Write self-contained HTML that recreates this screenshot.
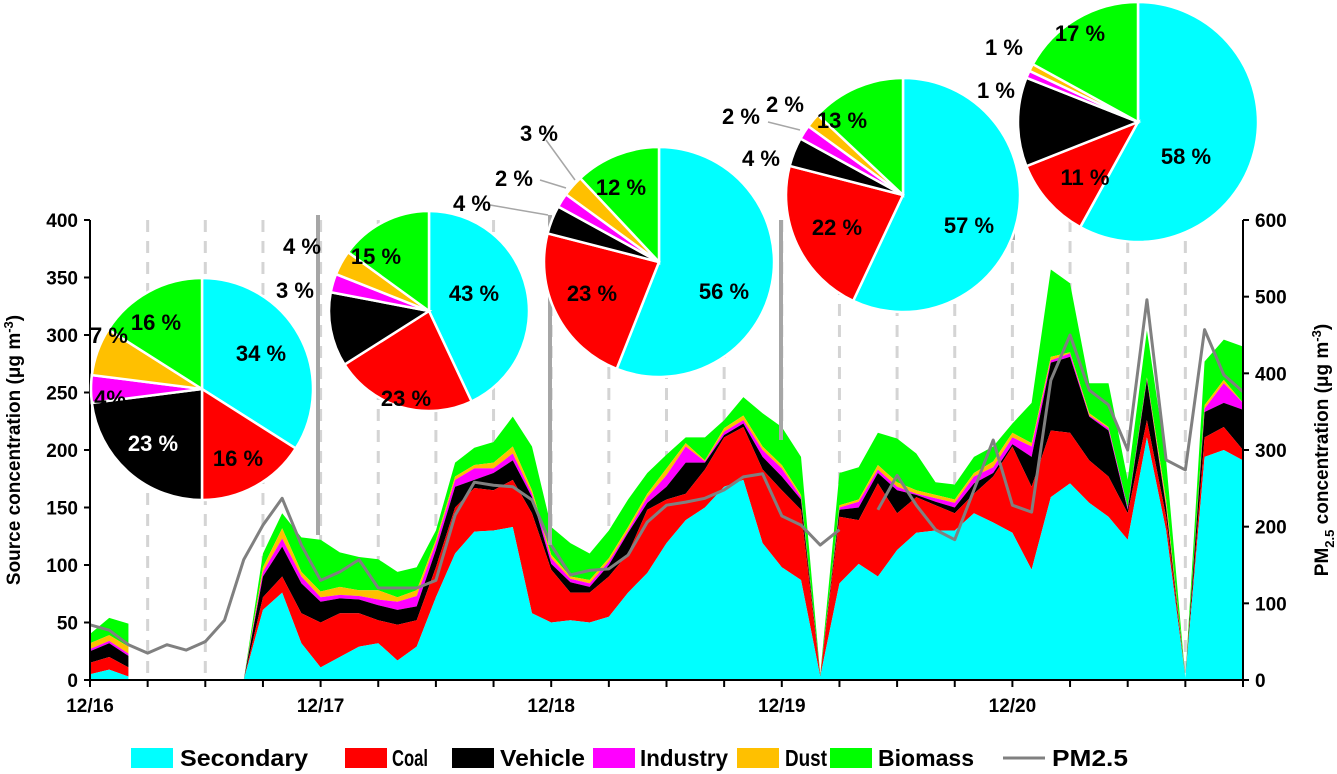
<!DOCTYPE html>
<html><head><meta charset="utf-8">
<style>
html,body{margin:0;padding:0;background:#fff;}
svg{display:block;font-family:"Liberation Sans",Arial,sans-serif;}
.t{font-weight:bold;font-size:19px;fill:#000;}
.pl{font-weight:bold;font-size:22px;fill:#000;}
.lg{font-weight:bold;font-size:23px;fill:#000;}
</style></head>
<body>
<svg id="chart" width="1337" height="774" viewBox="0 0 1337 774">
  <g id="grid"></g>
  <g id="areas"></g>
  <g id="pmline"></g>
  <g id="leaders">
    <line x1="318" y1="215" x2="318" y2="535" stroke="#a6a6a6" stroke-width="4"/>
    <line x1="550" y1="215" x2="550" y2="545" stroke="#a6a6a6" stroke-width="4"/>
    <line x1="781" y1="220" x2="781" y2="440" stroke="#a6a6a6" stroke-width="4"/>
    <line x1="1013" y1="220" x2="1013" y2="240" stroke="#a6a6a6" stroke-width="4"/>
    <polyline points="490,205 548,215" fill="none" stroke="#a6a6a6" stroke-width="1.5"/>
    <polyline points="540,180 566,188" fill="none" stroke="#a6a6a6" stroke-width="1.5"/>
    <polyline points="546,140 575,180" fill="none" stroke="#a6a6a6" stroke-width="1.5"/>
    <polyline points="768,122 800,130" fill="none" stroke="#a6a6a6" stroke-width="1.5"/>
  </g>
  <g id="axes"></g>
  <g id="pies"></g>
  <g id="pielabels">
    <text class="pl" x="261" y="361" text-anchor="middle">34 %</text>
    <text class="pl" x="238" y="466" text-anchor="middle">16 %</text>
    <text class="pl" x="153" y="451" text-anchor="middle" style="fill:#fff">23 %</text>
    <text class="pl" x="110" y="406" text-anchor="middle">4%</text>
    <text class="pl" x="109" y="343" text-anchor="middle">7 %</text>
    <text class="pl" x="156" y="330" text-anchor="middle">16 %</text>
    <text class="pl" x="474" y="301" text-anchor="middle">43 %</text>
    <text class="pl" x="406" y="406" text-anchor="middle">23 %</text>
    <text class="pl" x="376" y="264" text-anchor="middle">15 %</text>
    <text class="pl" x="295" y="298" text-anchor="middle">3 %</text>
    <text class="pl" x="302" y="254" text-anchor="middle">4 %</text>
    <text class="pl" x="724" y="299" text-anchor="middle">56 %</text>
    <text class="pl" x="592" y="301" text-anchor="middle">23 %</text>
    <text class="pl" x="621" y="195" text-anchor="middle">12 %</text>
    <text class="pl" x="472" y="211" text-anchor="middle">4 %</text>
    <text class="pl" x="514" y="186" text-anchor="middle">2 %</text>
    <text class="pl" x="539" y="141" text-anchor="middle">3 %</text>
    <text class="pl" x="969" y="233" text-anchor="middle">57 %</text>
    <text class="pl" x="837" y="235" text-anchor="middle">22 %</text>
    <text class="pl" x="842" y="128" text-anchor="middle">13 %</text>
    <text class="pl" x="761" y="166" text-anchor="middle">4 %</text>
    <text class="pl" x="741" y="124" text-anchor="middle">2 %</text>
    <text class="pl" x="785" y="112" text-anchor="middle">2 %</text>
    <text class="pl" x="1186" y="164" text-anchor="middle">58 %</text>
    <text class="pl" x="1085" y="185" text-anchor="middle">11 %</text>
    <text class="pl" x="1082" y="133" text-anchor="middle">12 %</text>
    <text class="pl" x="1080" y="41" text-anchor="middle">17 %</text>
    <text class="pl" x="996" y="98" text-anchor="middle">1 %</text>
    <text class="pl" x="1004" y="55" text-anchor="middle">1 %</text>
  </g>
  <text class="t" transform="translate(20,450) rotate(-90)" text-anchor="middle">Source concentration (μg m<tspan dy="-7" font-size="13">-3</tspan><tspan dy="7">)</tspan></text>
  <text class="t" transform="translate(1328,450) rotate(-90)" text-anchor="middle">PM<tspan dy="6" font-size="13">2.5</tspan><tspan dy="-6"> concentration (μg m</tspan><tspan dy="-7" font-size="13">-3</tspan><tspan dy="7">)</tspan></text>
  <g id="legend">
    <g><rect x="131" y="748" width="42" height="20" fill="#00ffff"/><text class="lg" x="180" y="766" textLength="128" lengthAdjust="spacingAndGlyphs">Secondary</text></g>
    <g><rect x="345" y="748" width="42" height="20" fill="#ff0000"/><text class="lg" x="392" y="766" textLength="36" lengthAdjust="spacingAndGlyphs">Coal</text></g>
    <g><rect x="452" y="748" width="42" height="20" fill="#000"/><text class="lg" x="500" y="766" textLength="85" lengthAdjust="spacingAndGlyphs">Vehicle</text></g>
    <g><rect x="593" y="748" width="42" height="20" fill="#ff00ff"/><text class="lg" x="640" y="766" textLength="88" lengthAdjust="spacingAndGlyphs">Industry</text></g>
    <g><rect x="737" y="748" width="42" height="20" fill="#ffc000"/><text class="lg" x="785" y="766" textLength="42" lengthAdjust="spacingAndGlyphs">Dust</text></g>
    <g><rect x="830" y="748" width="42" height="20" fill="#00ff00"/><text class="lg" x="878" y="766" textLength="96" lengthAdjust="spacingAndGlyphs">Biomass</text></g>
    <g><line x1="1003" y1="758" x2="1045" y2="758" stroke="#808080" stroke-width="3"/><text class="lg" x="1052" y="766" textLength="76" lengthAdjust="spacingAndGlyphs">PM2.5</text></g>
  </g>
</svg>
<script>
const dayLabels = ["12/16","12/17","12/18","12/19","12/20"];
const leftTicks = [0,50,100,150,200,250,300,350,400];
const rightTicks = [0,100,200,300,400,500,600];
const seriesNames = ["Secondary","Coal","Vehicle","Industry","Dust","Biomass"];
const seriesColors = ["#00ffff","#ff0000","#000000","#ff00ff","#ffc000","#00ff00"];
const N = null;
const secondary = [5,9,3,N,N,N,N,N,0,61,76,32,11,20,29,32,17,29,72,110,129,130,133,58,50,52,50,55,76,93,119,139,150,168,174,119,98,87,3,84,101,90,113,128,130,130,145,137,128,96,159,171,154,142,122,211,130,2,194,200,191];
const coal      = [10,11,8,N,N,N,N,N,0,11,14,26,39,38,29,20,31,23,26,40,38,35,41,87,46,24,26,35,34,55,38,23,33,43,46,64,67,61,1,58,38,81,32,31,22,15,17,40,75,72,58,44,37,35,23,15,12,0,17,20,9];
const vehicle   = [10,12,10,N,N,N,N,N,0,18,26,26,18,13,12,13,13,12,15,18,7,15,17,14,5,9,5,10,18,6,11,27,6,2,3,11,12,9,0,6,11,9,20,2,3,5,9,3,2,26,59,66,38,40,3,35,8,0,22,21,35];
const industry  = [2,2,2,N,N,N,N,N,0,4,7,6,4,3,3,5,7,9,6,6,10,4,6,3,5,3,3,3,2,5,10,14,1,3,3,6,7,2,0,2,5,3,3,1,3,4,6,5,6,9,2,3,1,2,2,1,2,0,3,17,6];
const dust      = [5,5,6,N,N,N,N,N,0,4,9,4,5,7,5,8,4,5,3,3,3,5,6,3,3,2,3,3,3,3,6,3,1,3,4,3,3,2,0,2,2,4,4,3,3,3,3,5,4,3,3,1,2,1,0,1,5,0,3,3,0];
const biomass   = [8,15,20,N,N,N,N,N,0,12,13,30,45,30,29,27,22,20,8,12,15,18,26,38,24,29,23,24,24,18,12,5,20,7,16,29,33,33,1,28,28,28,38,32,11,13,14,13,8,35,76,60,26,38,24,41,34,0,38,35,49];
const pm25      = [72,65,46,35,46,39,50,78,157,202,237,176,130,141,157,120,120,120,130,215,258,254,252,235,176,137,143,145,163,206,228,232,237,248,265,269,214,202,176,196,N,222,267,228,196,183,248,313,228,219,391,450,378,359,300,496,287,274,457,398,376];
const pieSecondary = [34,43,56,57,58];
const pieCoal      = [16,23,23,22,11];
const pieVehicle   = [23,12,4,4,12];
const pieIndustry  = [4,3,2,2,1];
const pieDust      = [7,4,3,2,1];
const pieBiomass   = [16,15,12,13,17];

const NS = "http://www.w3.org/2000/svg";
const X0 = 90, X1 = 1243, Y0 = 680, YT = 220;
const nPts = secondary.length;
const xAt = i => X0 + i * (X1 - X0) / (nPts - 1);
const yL = v => Y0 - v * (Y0 - YT) / 400;
const yR = v => Y0 - v * (Y0 - YT) / 600;
function mk(tag, attrs, parent){const e=document.createElementNS(NS,tag);for(const k in attrs)e.setAttribute(k,attrs[k]);parent.appendChild(e);return e;}

const grid = document.getElementById('grid');
for (let h = 1; h < 20; h++) {
  const x = X0 + h * (X1 - X0) / 20;
  const ln = mk('line',{x1:x,y1:YT,x2:x,y2:Y0,stroke:'#d4d4d4','stroke-width':3,'stroke-dasharray':'12 9'},grid);
  
  
}

const series = [secondary,coal,vehicle,industry,dust,biomass];
const areas = document.getElementById('areas');
const cum = [];
for (let k = 0; k < series.length; k++) {
  cum.push(series[k].map((v,i)=> v===null?null:(k?cum[k-1][i]:0)+v));
}
for (let k = series.length-1; k >= 0; k--) {
  let seg = [];
  const flush = () => {
    if (seg.length > 1) {
      const top = seg.map(i=>xAt(i)+','+yL(cum[k][i]));
      const bot = seg.slice().reverse().map(i=>xAt(i)+','+yL(k?cum[k-1][i]:0));
      const p = mk('polygon',{points:top.concat(bot).join(' '),fill:seriesColors[k]},areas);
      
      
    }
    seg = [];
  };
  for (let i = 0; i < nPts; i++) { if (cum[k][i]===null) flush(); else seg.push(i); }
  flush();
}

const pmg = document.getElementById('pmline');
let pseg = [];
const pflush = () => {
  if (pseg.length > 1) {
    const pl = mk('polyline',{points:pseg.map(i=>xAt(i)+','+yR(pm25[i])).join(' '),fill:'none',stroke:'#808080','stroke-width':3,'stroke-linejoin':'round'},pmg);
    
    
  }
  pseg = [];
};
for (let i = 0; i < pm25.length; i++) { if (pm25[i]===null) pflush(); else pseg.push(i); }
pflush();

const ax = document.getElementById('axes');
mk('line',{x1:X0,y1:YT,x2:X0,y2:Y0,stroke:'#000','stroke-width':2},ax);
mk('line',{x1:X1,y1:YT,x2:X1,y2:Y0,stroke:'#000','stroke-width':2},ax);
mk('line',{x1:X0,y1:Y0,x2:X1,y2:Y0,stroke:'#000','stroke-width':2},ax);
leftTicks.forEach(v=>{
  mk('line',{x1:X0-6,y1:yL(v),x2:X0,y2:yL(v),stroke:'#000','stroke-width':2},ax);
  const t = mk('text',{x:X0-12,y:yL(v)+7,'text-anchor':'end',class:'t'},ax);
  t.textContent = v;
  
  
});
rightTicks.forEach(v=>{
  mk('line',{x1:X1,y1:yR(v),x2:X1+6,y2:yR(v),stroke:'#000','stroke-width':2},ax);
  const t = mk('text',{x:X1+12,y:yR(v)+7,'text-anchor':'start',class:'t'},ax);
  t.textContent = v;
  
  
});
for (let h = 0; h <= 20; h++) {
  const x = X0 + h * (X1 - X0) / 20;
  mk('line',{x1:x,y1:Y0,x2:x,y2:Y0+7,stroke:'#000','stroke-width':2},ax);
}
dayLabels.forEach((d,j)=>{
  const t = mk('text',{x:X0 + j*(X1-X0)/5,y:Y0+32,'text-anchor':'middle',class:'t'},ax);
  t.textContent = d;
  
  
});

const pieCenters = [[202,389,111],[429,311,100],[659,262,115],[903,195,117],[1138,122,120]];
const pies = document.getElementById('pies');
const pieSeries = [pieSecondary,pieCoal,pieVehicle,pieIndustry,pieDust,pieBiomass];
pieCenters.forEach((c,p)=>{
  const [cx,cy,r] = c;
  const vals = pieSeries.map(s=>s[p]);
  const tot = vals.reduce((a,b)=>a+b,0);
  let a0 = 0;
  vals.forEach((v,k)=>{
    const a1 = a0 + v/tot*2*Math.PI;
    const x0 = cx + r*Math.sin(a0), y0 = cy - r*Math.cos(a0);
    const x1 = cx + r*Math.sin(a1), y1 = cy - r*Math.cos(a1);
    const large = (a1-a0) > Math.PI ? 1 : 0;
    const path = mk('path',{d:`M${cx},${cy} L${x0},${y0} A${r},${r} 0 ${large} 1 ${x1},${y1} Z`,fill:seriesColors[k],stroke:'#fff','stroke-width':2.5},pies);
    
    
    a0 = a1;
  });
});
</script>
</body></html>
